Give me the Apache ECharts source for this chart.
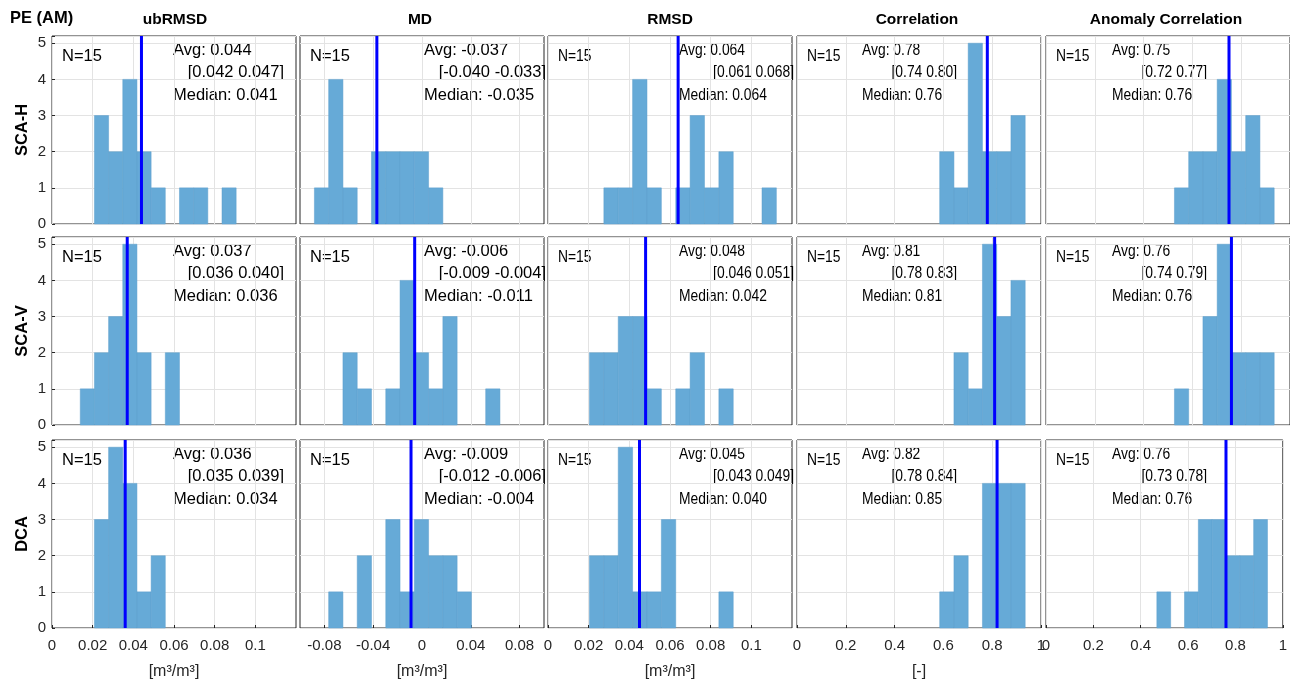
<!DOCTYPE html>
<html lang="en">
<head>
    <meta charset="UTF-8">
    <title>PE (AM) histograms</title>
    <script src="https://cdn.jsdelivr.net/npm/echarts@6/dist/echarts.min.js"></script>
</head>
<body style="margin:0">
    <div id="main" style="width:1290px;height:684px"></div>
    <script>
        var myEcharts = echarts.init(document.getElementById('main'))

        var metrics = ['ubRMSD', 'MD', 'RMSD', 'Correlation', 'Anomaly Correlation']
        var products = ['SCA-H', 'SCA-V', 'DCA']

        // bin layout per column (first bin edge, bin width)
        var binStart = [0.0139, -0.0882, 0.0204, 0.468, 0.468]
        var binWidth = [0.00697, 0.0117, 0.00707, 0.0584, 0.0584]

        // counts per bin, one array per panel [row][col]
        var countsSCAH = [
            [0, 3, 2, 4, 2, 1, 0, 1, 1, 0, 1],
            [1, 4, 1, 0, 2, 2, 2, 2, 1],
            [0, 1, 1, 4, 1, 0, 1, 3, 1, 2, 0, 0, 1],
            [0, 0, 2, 1, 5, 2, 2, 3],
            [0, 1, 2, 2, 4, 2, 3, 1]
        ]
        var countsSCAV = [
            [1, 2, 3, 5, 2, 0, 2],
            [0, 0, 2, 1, 0, 1, 4, 2, 1, 3, 0, 0, 1],
            [2, 2, 3, 3, 1, 0, 1, 2, 0, 1],
            [0, 0, 0, 2, 1, 5, 3, 4],
            [0, 1, 0, 3, 5, 2, 2, 2]
        ]
        var countsDCA = [
            [0, 3, 5, 4, 1, 2],
            [0, 1, 0, 2, 0, 3, 1, 3, 2, 2, 1],
            [2, 2, 5, 1, 1, 3, 0, 0, 0, 1],
            [0, 0, 1, 2, 0, 4, 4, 4],
            [1, 0, 1, 3, 3, 2, 2, 3]
        ]
        var counts = [countsSCAH, countsSCAV, countsDCA]

        var avgText = [
            ['0.044', '-0.037', '0.064', '0.78', '0.75'],
            ['0.037', '-0.006', '0.048', '0.81', '0.76'],
            ['0.036', '-0.009', '0.045', '0.82', '0.76']
        ]
        var ciText = [
            ['[0.042 0.047]', '[-0.040 -0.033]', '[0.061 0.068]', '[0.74 0.80]', '[0.72 0.77]'],
            ['[0.036 0.040]', '[-0.009 -0.004]', '[0.046 0.051]', '[0.78 0.83]', '[0.74 0.79]'],
            ['[0.035 0.039]', '[-0.012 -0.006]', '[0.043 0.049]', '[0.78 0.84]', '[0.73 0.78]']
        ]
        var medianText = [
            ['0.041', '-0.035', '0.064', '0.76', '0.76'],
            ['0.036', '-0.011', '0.042', '0.81', '0.76'],
            ['0.034', '-0.004', '0.040', '0.85', '0.76']
        ]

        var xMin = [0, -0.1, 0, 0, 0]
        var xMax = [0.12, 0.1, 0.12, 1, 1]
        var xTicks = [
            [0, 0.02, 0.04, 0.06, 0.08, 0.1],
            [-0.08, -0.04, 0, 0.04, 0.08],
            [0, 0.02, 0.04, 0.06, 0.08, 0.1],
            [0, 0.2, 0.4, 0.6, 0.8, 1],
            [0, 0.2, 0.4, 0.6, 0.8, 1]
        ]
        var xNames = ['[m³/m³]', '[m³/m³]', '[m³/m³]', '[-]', '']

        var colLeft = [52, 300, 548, 797, 1046]
        var colW = 244
        var rowTop = [36, 237, 440]
        var rowH = 188
        var yMax = 5.2
        var font = '"Liberation Sans", Arial, sans-serif'

        var grids = [], xAxes = [], yAxes = [], series = [], graphics = []

        for (var r = 0; r < 3; r++) {
            for (var c = 0; c < 5; c++) {
                var idx = grids.length
                grids.push({
                    left: colLeft[c], top: rowTop[r], width: colW, height: rowH,
                    show: true, borderColor: '#262626', borderWidth: 1
                })
                xAxes.push({
                    gridIndex: idx, type: 'value', min: xMin[c], max: xMax[c],
                    axisLine: { show: false },
                    axisTick: { show: r == 2, inside: true, length: 3, lineStyle: { color: '#262626' }, customValues: xTicks[c] },
                    axisLabel: {
                        show: r == 2, customValues: xTicks[c], color: '#262626', fontSize: 15, fontFamily: font, margin: 10,
                        showMinLabel: true, showMaxLabel: true
                    },
                    splitLine: { show: true, lineStyle: { color: '#e3e3e3' } },
                    name: r == 2 ? xNames[c] : '', nameLocation: 'middle', nameGap: 36,
                    nameTextStyle: { color: '#262626', fontSize: 16, fontFamily: font }
                })
                yAxes.push({
                    gridIndex: idx, type: 'value', min: 0, max: yMax, interval: 1,
                    axisLine: { show: false },
                    axisTick: { show: c == 0, inside: true, length: 3, lineStyle: { color: '#262626' } },
                    axisLabel: { show: c == 0, color: '#262626', fontSize: 15, fontFamily: font, margin: 6,
                        formatter: function (v) { return v > 5 ? '' : v } },
                    splitLine: { show: true, lineStyle: { color: '#e3e3e3' } }
                })

                var bins = []
                var cnt = counts[r][c]
                for (var k = 0; k < cnt.length; k++) {
                    if (cnt[k] > 0) {
                        var e0 = binStart[c] + k * binWidth[c]
                        bins.push([e0, e0 + binWidth[c], cnt[k]])
                    }
                }
                series.push({
                    type: 'custom', xAxisIndex: idx, yAxisIndex: idx, data: bins,
                    renderItem: function (params, api) {
                        var p0 = api.coord([api.value(0), api.value(2)])
                        var p1 = api.coord([api.value(1), 0])
                        return {
                            type: 'rect',
                            shape: { x: p0[0], y: p0[1], width: p1[0] - p0[0], height: p1[1] - p0[1] },
                            style: { fill: '#66aad7', stroke: '#5d9fcc', lineWidth: 0.5 }
                        }
                    }
                })
                // average line
                var avg = parseFloat(avgText[r][c])
                series.push({
                    type: 'line', xAxisIndex: idx, yAxisIndex: idx, symbol: 'none', silent: true,
                    data: [[avg, 0], [avg, yMax]],
                    lineStyle: { color: '#0000ff', width: 3 }
                })

                // statistics text (the three right columns are horizontally squeezed)
                var tx = [121, 124, 131, 65, 66][c]
                var ciRight = [232, 246, 246, 160, 161][c]
                var sx = c < 2 ? 1 : 0.84
                var ts = { fill: '#000', fontSize: 16.5, fontFamily: font, textVerticalAlign: 'top' }
                graphics.push({ type: 'text', x: colLeft[c] + 10, y: rowTop[r] + 12, scaleX: sx,
                    style: Object.assign({ text: 'N=15' }, ts) })
                graphics.push({ type: 'text', x: colLeft[c] + tx, y: rowTop[r] + 6, scaleX: sx,
                    style: Object.assign({ text: 'Avg: ' + avgText[r][c] }, ts) })
                graphics.push({ type: 'text', x: colLeft[c] + ciRight, y: rowTop[r] + 28, scaleX: sx,
                    style: Object.assign({ text: ciText[r][c], textAlign: 'right' }, ts) })
                graphics.push({ type: 'text', x: colLeft[c] + tx, y: rowTop[r] + 51, scaleX: sx,
                    style: Object.assign({ text: 'Median: ' + medianText[r][c] }, ts) })
            }
        }

        // column titles
        var titleX = [175, 420, 670, 917, 1166]
        for (var c = 0; c < 5; c++) {
            graphics.push({ type: 'text', x: titleX[c], y: 20,
                style: { text: metrics[c], textAlign: 'center', textVerticalAlign: 'middle', fill: '#000', fontSize: 15.5, fontWeight: 'bold', fontFamily: font } })
        }
        graphics.push({ type: 'text', x: 10, y: 18,
            style: { text: 'PE (AM)', textVerticalAlign: 'middle', fill: '#000', fontSize: 16.5, fontWeight: 'bold', fontFamily: font } })

        // row labels
        for (var r = 0; r < 3; r++) {
            graphics.push({ type: 'text', x: 22, y: rowTop[r] + rowH / 2, rotation: Math.PI / 2,
                style: { text: products[r], textAlign: 'center', textVerticalAlign: 'middle', fill: '#000', fontSize: 16.5, fontWeight: 'bold', fontFamily: font } })
        }

        var option = {
            backgroundColor: '#fff',
            animation: false,
            grid: grids,
            xAxis: xAxes,
            yAxis: yAxes,
            series: series,
            graphic: graphics
        }

        myEcharts.setOption(option)
    </script>
</body>
</html>
